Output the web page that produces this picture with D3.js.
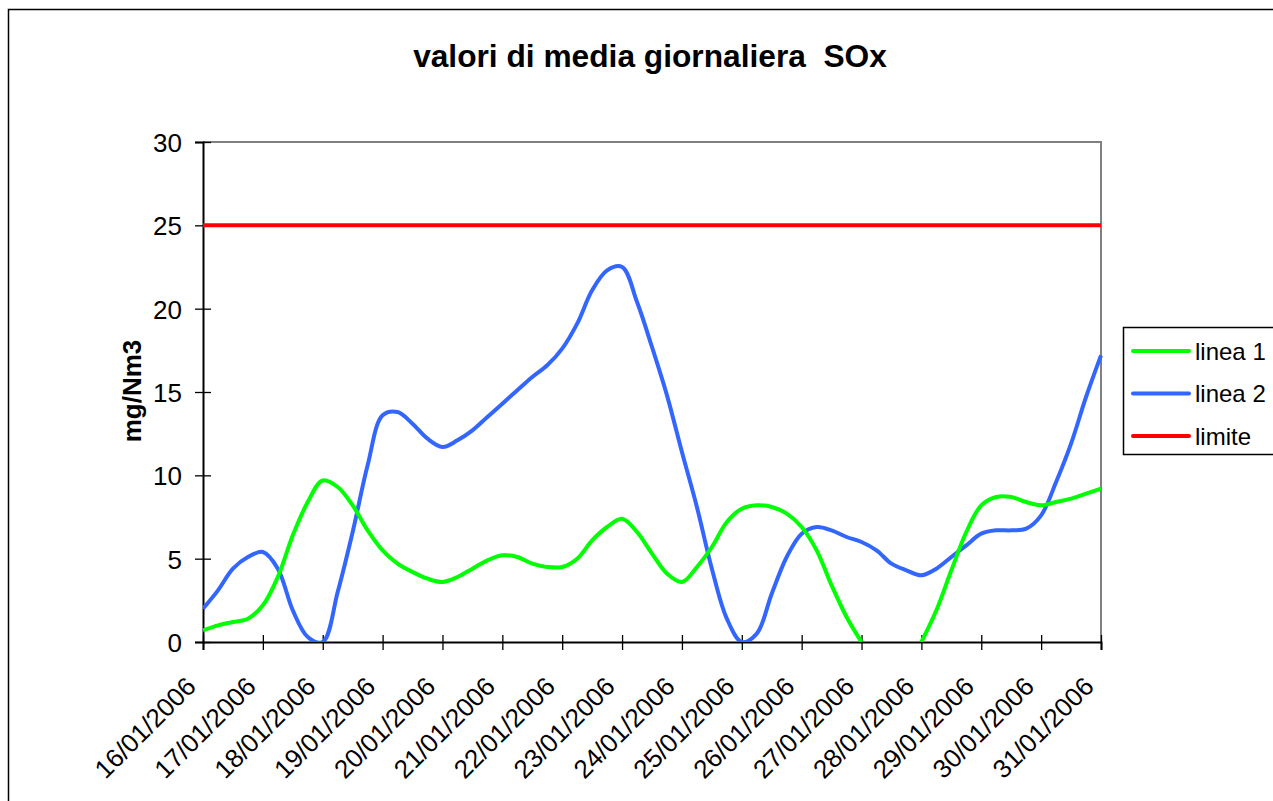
<!DOCTYPE html>
<html>
<head>
<meta charset="utf-8">
<script src="https://cdn.jsdelivr.net/npm/d3@7"></script>
<style>
  body { margin: 0; background: #fff; }
  text { font-family: Arial, "Liberation Sans", sans-serif; }
</style>
</head>
<body>
<div id="chart"></div>
<script>
const WIDTH = 1273;
const HEIGHT = 801;

// categories on the x axis (one per day)
const dates = ['16/01/2006', '17/01/2006', '18/01/2006', '19/01/2006', '20/01/2006',
    '21/01/2006', '22/01/2006', '23/01/2006', '24/01/2006', '25/01/2006',
    '26/01/2006', '27/01/2006', '28/01/2006', '29/01/2006', '30/01/2006', '31/01/2006'];

// readings every quarter of a day (null = no data)
const linea1 = [0.7, 1.0, 1.2, 1.4, 2.2, 3.9, 6.4, 8.4, 9.7, 9.3, 8.2, 6.7, 5.5, 4.7, 4.2, 3.8,
    3.6, 3.9, 4.4, 4.9, 5.2, 5.1, 4.7, 4.5, 4.5, 5.0, 6.1, 6.9, 7.4, 6.6, 5.3, 4.1,
    3.6, 4.5, 5.7, 7.2, 8.0, 8.2, 8.1, 7.7, 6.9, 5.5, 3.4, 1.5, 0, null, null, null,
    0, 1.9, 4.3, 6.6, 8.2, 8.7, 8.7, 8.4, 8.2, 8.4, 8.6, 8.9, 9.2];
const linea2 = [2.0, 3.1, 4.4, 5.1, 5.4, 4.4, 1.9, 0.3, 0, 3.0, 6.6, 10.6, 13.6, 13.8, 13.1, 12.2,
    11.7, 12.1, 12.7, 13.5, 14.3, 15.1, 15.9, 16.6, 17.6, 19.1, 21.1, 22.3, 22.5, 20.4, 17.7, 14.8,
    11.4, 8.1, 4.4, 1.4, 0, 0.5, 2.9, 5.1, 6.5, 6.9, 6.7, 6.3, 6.0, 5.5, 4.7, 4.3,
    4.0, 4.4, 5.1, 5.8, 6.5, 6.7, 6.7, 6.8, 7.6, 9.6, 11.9, 14.7, 17.2];
const limite = dates.map(() => 25);

const yTicks = [0, 5, 10, 15, 20, 25, 30];

const series = [
    { name: 'linea 1', color: '#00ff00', values: linea1, step: 0.25 },
    { name: 'linea 2', color: '#3366ff', values: linea2, step: 0.25 },
    { name: 'limite', color: '#ff0000', values: limite, step: 1 }
];

const plot = { left: 203, right: 1101, top: 142, bottom: 642 };

const SVG = d3.select('#chart')
    .append('svg')
    .attr('width', WIDTH)
    .attr('height', HEIGHT);

// chart frame
SVG.append('rect')
    .attr('x', 8.5).attr('y', 9.5)
    .attr('width', 1400).attr('height', 1000)
    .attr('fill', 'none')
    .attr('stroke', '#000')
    .attr('stroke-width', 1.5);

const x = d3.scaleLinear().domain([0, dates.length - 1]).range([plot.left, plot.right]);
const y = d3.scaleLinear().domain([0, 30]).range([plot.bottom, plot.top]);

// plot area border (top and right in grey)
SVG.append('path')
    .attr('d', `M${plot.left},${plot.top}H${plot.right}V${plot.bottom}`)
    .attr('fill', 'none')
    .attr('stroke', '#808080')
    .attr('stroke-width', 2);

SVG.append('clipPath').attr('id', 'clip')
    .append('rect')
    .attr('x', plot.left).attr('y', plot.top - 3)
    .attr('width', plot.right - plot.left + 3)
    .attr('height', plot.bottom - plot.top + 3);

// y axis
const yAxis = SVG.append('g')
    .attr('transform', `translate(${plot.left},0)`)
    .call(d3.axisLeft(y).tickValues(yTicks).tickSize(8).tickPadding(13));
yAxis.select('.domain').attr('stroke', '#000').attr('stroke-width', 2);
yAxis.selectAll('.tick line').attr('x1', 8).attr('x2', -8).attr('stroke-width', 1.3);
yAxis.selectAll('.tick text')
    .attr('font-size', 26)
    .attr('fill', '#000')
    .attr('dy', '0.36em');

// x axis
const xAxis = SVG.append('g')
    .attr('transform', `translate(0,${plot.bottom})`)
    .call(d3.axisBottom(x).tickValues(d3.range(dates.length)).tickSize(8).tickFormat(i => dates[i]));
xAxis.select('.domain').attr('stroke', '#000').attr('stroke-width', 2);
xAxis.selectAll('.tick line').attr('y1', -7).attr('y2', 8).attr('stroke-width', 1.3);
xAxis.selectAll('.tick text')
    .attr('font-size', 26)
    .attr('fill', '#000')
    .attr('text-anchor', 'end')
    .attr('y', 0)
    .attr('dy', 0)
    .attr('transform', 'translate(-6,46) rotate(-45)');

// series lines
const line = d3.line()
    .defined(d => d.v !== null)
    .x(d => x(d.t))
    .y(d => y(d.v))
    .curve(d3.curveCatmullRom.alpha(0.5));

SVG.append('g')
    .attr('clip-path', 'url(#clip)')
    .selectAll('path')
    .data(series.slice().reverse())
    .enter().append('path')
    .attr('d', s => line(s.values.map((v, i) => ({ t: i * s.step, v: v }))))
    .attr('fill', 'none')
    .attr('stroke', s => s.color)
    .attr('stroke-width', 4)
    .attr('stroke-linejoin', 'round');

// title
SVG.append('text')
    .attr('x', 650).attr('y', 67)
    .attr('text-anchor', 'middle')
    .attr('font-size', 31.7)
    .attr('font-weight', 'bold')
    .style('white-space', 'pre')
    .text('valori di media giornaliera  SOx');

// y axis title
SVG.append('text')
    .attr('transform', 'translate(141,391) rotate(-90)')
    .attr('text-anchor', 'middle')
    .attr('font-size', 26)
    .attr('font-weight', 'bold')
    .text('mg/Nm3');

// legend
const legend = SVG.append('g').attr('transform', 'translate(1123,327)');
legend.append('rect')
    .attr('x', 0.5).attr('y', 0.5)
    .attr('width', 200).attr('height', 127)
    .attr('fill', '#fff')
    .attr('stroke', '#000')
    .attr('stroke-width', 1.5);
const item = legend.selectAll('g.item')
    .data(series)
    .enter().append('g')
    .attr('class', 'item')
    .attr('transform', (d, i) => `translate(0,${24 + i * 42.5})`);
item.append('line')
    .attr('x1', 10).attr('x2', 66)
    .attr('stroke', d => d.color)
    .attr('stroke-width', 4)
    .attr('stroke-linecap', 'round');
item.append('text')
    .attr('x', 72).attr('dy', '0.36em')
    .attr('font-size', 24)
    .text(d => d.name);
</script>
</body>
</html>
